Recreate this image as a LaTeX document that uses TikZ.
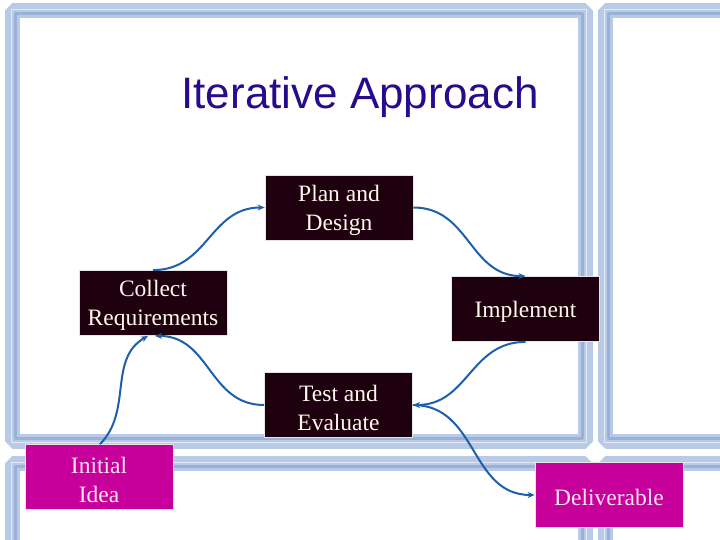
\documentclass[tikz,border=0pt]{standalone}
\usepackage{fontspec}
\setmainfont{Liberation Serif}
\newfontfamily\titlefont{Liberation Sans}
\usetikzlibrary{arrows.meta}
\definecolor{boxfill}{RGB}{30,0,14}
\definecolor{magentabox}{RGB}{200,0,155}
\definecolor{arrowblue}{RGB}{30,95,170}
\definecolor{titleblue}{RGB}{40,10,140}
\definecolor{frameblue}{RGB}{185,202,230}
\definecolor{framedark}{RGB}{140,165,210}
\definecolor{cream}{RGB}{255,248,235}
\tikzset{
  boxtext/.style={text=cream, align=center, inner sep=0pt, yshift=-2.5pt,
    font=\fontsize{23.5}{29}\selectfont},
  darkbox/.style={fill=boxfill, draw=white!80!gray, line width=0.8pt,
    minimum width=148pt, minimum height=65pt, inner sep=0pt,
    label={[boxtext]center:#1}},
  pinkbox/.style={fill=magentabox, draw=white!80!gray, line width=0.8pt,
    minimum width=148pt, minimum height=65pt, inner sep=0pt,
    label={[boxtext, text=white!90!magentabox]center:#1}},
  flow/.style={draw=arrowblue, line width=2pt, -{Stealth[length=7pt,width=6pt]}}
}
\begin{document}
\begin{tikzpicture}[x=1pt,y=-1pt]
\useasboundingbox (0,0) rectangle (720,540);
\begin{scope}
\clip (0,0) rectangle (720,540);
\foreach \a/\b/\c/\d in {12/11/585/441, 605/11/735/441, 12/463/585/560, 605/463/735/560}{
  \draw[frameblue, line width=15pt, line join=bevel] (\a,\b) rectangle (\c,\d);
  \draw[framedark, line width=3pt, line join=bevel, opacity=0.7] (\a+3,\b+3) rectangle (\c-3,\d-3);
  \draw[white, line width=1pt, line join=bevel, opacity=0.6] (\a-1,\b-1) rectangle (\c+1,\d+1);
}
\end{scope}

\node[font=\titlefont\fontsize{44}{50}\selectfont, text=titleblue, anchor=base] (title) at (360,109) {Iterative Approach};

\node[darkbox={Plan and\\Design}] (plan) at (339,207.5) {};
\node[darkbox={Collect\\Requirements}] (collect) at (153,303) {};
\node[darkbox={Implement}] (impl) at (525.5,309) {};
\node[darkbox={Test and\\Evaluate}] (test) at (338.5,405) {};
\node[pinkbox={Initial\\Idea}] (idea) at (99,477) {};
\node[pinkbox={Deliverable}] (deliv) at (609,495) {};

\draw[flow] (collect.north) to[out=0,in=180,looseness=1.1] (plan.west);
\draw[flow] (plan.east) to[out=0,in=180,looseness=1.1] (impl.north);
\draw[flow] (impl.south) to[out=180,in=0,looseness=1.1] (test.east);
\draw[flow] (test.west) to[out=180,in=0,looseness=1.1] ([xshift=2pt]collect.south);
\draw[flow] ([xshift=1pt]idea.north) to[out=45,in=210,looseness=1] ([xshift=-5pt]collect.south);
\draw[flow] (test.east) to[out=0,in=180,looseness=1.1] (deliv.west);
\end{tikzpicture}
\end{document}
